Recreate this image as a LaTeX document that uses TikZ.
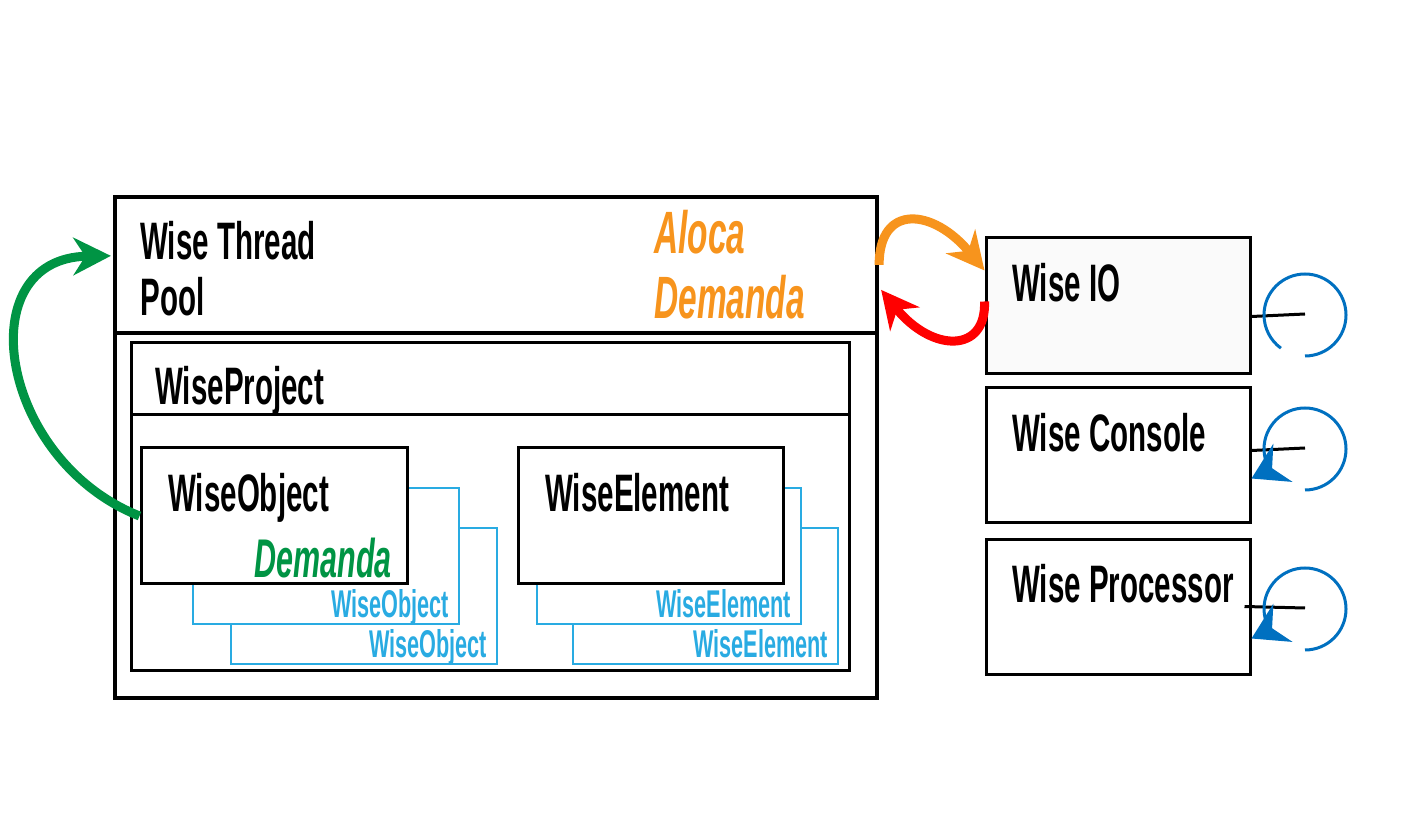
\documentclass[tikz,border=0pt]{standalone}
\usepackage{fontspec}
\setmainfont{Liberation Sans}[FakeStretch=0.56]
\usetikzlibrary{arrows.meta,fit,calc}
\definecolor{wiseOrange}{HTML}{F7941D}
\definecolor{wiseRed}{HTML}{FF0000}
\definecolor{wiseGreen}{HTML}{009444}
\definecolor{wiseCyan}{HTML}{29ABE2}
\definecolor{wiseBlue}{HTML}{0070C0}
\definecolor{ioFill}{HTML}{FAFAFA}
\tikzset{
  poolBox/.style={draw,line width=0.85mm,inner sep=0pt},
  wiseBox/.style={draw,line width=0.6mm,inner sep=0pt,fill=white},
  copyBox/.style={draw=wiseCyan,line width=0.55mm,inner sep=0pt,fill=white},
  bigText/.style={inner sep=0pt,anchor=base west,font=\fontsize{30}{32}\selectfont\bfseries},
  demText/.style={inner sep=0pt,font=\fontsize{34}{34}\selectfont\bfseries\itshape},
  copyText/.style={inner sep=0pt,anchor=base east,text=wiseCyan,font=\fontsize{22}{22}\selectfont\bfseries},
  flow/.style={line width=1.8mm,-{Stealth[length=7.5mm,width=7.5mm,inset=2.4mm]}},
  hubLine/.style={line width=0.6mm},
  spin/.style={draw=wiseBlue,line width=0.6mm}
}

\begin{document}
\begin{tikzpicture}[x=0.2mm,y=-0.2mm]
  \useasboundingbox (0,0) rectangle (1403,820);
  \node[poolBox,fit={(115,197) (877,698)}] (pool) {};
  \node[poolBox,fit={(115,197) (877,333)}] (poolHead) {};
  \node[bigText] (poolName) at (140,260) {Wise Thread};
  \node[bigText] (poolName2) at (140,316) {Pool};
  \node[demText,text=wiseOrange,anchor=base west] (aloca) at (654,254) {Aloca};
  \node[demText,text=wiseOrange,anchor=base west] (demanda) at (654,319) {Demanda};
  \node[wiseBox,fit={(131,343) (849,670)}] (proj) {};
  \node[wiseBox,fit={(131,343) (849,415)}] (projHead) {};
  \node[bigText] (projName) at (155,405) {WiseProject};
  \foreach \nm/\x/\y/\w/\lbl in {objB/231/528/266/WiseObject, objA/193/488/266/WiseObject,
      elmB/573/528/265/WiseElement, elmA/537/488/264/WiseElement}
  {
    \node[copyBox,fit={(\x,\y) (\x+\w,\y+136)}] (\nm) {};
    \node[copyText] (\nm Text) at ($(\nm.south east)+(-11,-8)$) {\lbl};
  }
  \node[wiseBox,fit={(141,448) (407,584)}] (obj) {};
  \node[bigText] (objName) at (168,512) {WiseObject};
  \node[demText,text=wiseGreen,anchor=base east,font=\fontsize{31}{31}\selectfont\bfseries\itshape] (objDem) at (392,578) {Demanda};
  \node[wiseBox,fit={(518,448) (783,584)}] (elm) {};
  \node[bigText] (elmName) at (545,512) {WiseElement};
  \node[wiseBox,fill=ioFill,fit={(986,238) (1250,374)}] (io) {};
  \node[bigText] (ioName) at (1012,302) {Wise IO};
  \node[wiseBox,fit={(986,388) (1250,523)}] (con) {};
  \node[bigText] (conName) at (1012,452) {Wise Console};
  \node[wiseBox,fit={(986,540) (1250,674)}] (proc) {};
  \node[bigText] (procName) at (1012,603) {Wise Processor};
  \coordinate (ioHub) at (1305,314);
  \coordinate (conHub) at (1305,448);
  \coordinate (procHub) at (1305,608);
  \draw[hubLine] ($(io.north east)+(0,80)$) -- (ioHub);
  \draw[hubLine] ($(con.north east)+(0,64)$) -- (conHub);
  \draw[hubLine] ($(proc.north east)+(-7,68)$) -- (procHub);
  \draw[spin] ($(ioHub)+(0,42)$) arc[start angle=90,end angle=-234,radius=41];
  \foreach \hub in {conHub,procHub}
    \draw[spin,-{Stealth[length=7mm,width=8.5mm,inset=2.4mm]}] ($(\hub)+(0,42)$)
      arc[start angle=90,end angle=-210,radius=41] -- ++(-18,9);
  \draw[flow,wiseOrange] ($(pool.north east)+(0,70)$) .. controls ($(pool.north east)+(0,8)$)
    and ($(io.north west)+(-51,-28)$) .. ($(io.north west)+(0,34)$);
  \draw[flow,wiseRed] ($(io.north west)+(0,65)$) .. controls ($(io.north west)+(2,117)$)
    and ($(pool.north east)+(53,158)$) .. ($(pool.north east)+(2,95)$);
  \draw[flow,wiseGreen] (obj.west) .. controls ($(obj.west)+(-141,-56)$)
    and ($(pool.north west)+(-145,63)$) .. ($(pool.north west)+(-2,61)$);
\end{tikzpicture}
\end{document}
